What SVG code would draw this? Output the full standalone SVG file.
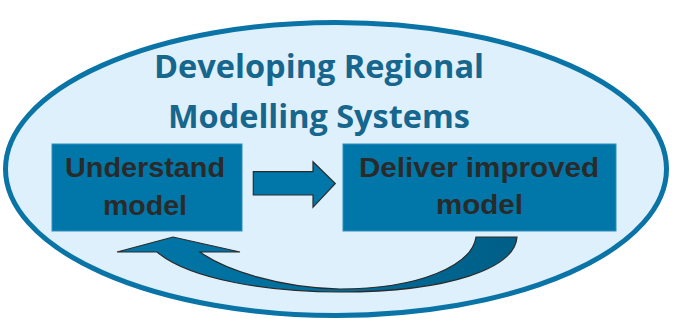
<svg xmlns="http://www.w3.org/2000/svg" width="688" height="329" viewBox="0 0 688 329">
<defs>
<style>
.title{font-family:"Open Sans","Liberation Sans",sans-serif;font-weight:bold;font-size:33px;fill:#17668D;text-anchor:middle}
.lbl{font-family:"Liberation Sans",Arial,sans-serif;font-weight:bold;font-size:27px;fill:#2A2A2A;text-anchor:middle}
.box{fill:#0077A8;stroke:#2F8DBD;stroke-width:1}
.arr{stroke:#2B2B2B;stroke-width:1.2;stroke-linejoin:miter}
</style>
<linearGradient id="cg" x1="117" y1="0" x2="518" y2="0" gradientUnits="userSpaceOnUse">
<stop offset="0" stop-color="#0077A8"/>
<stop offset="0.5" stop-color="#006E9C"/>
<stop offset="1" stop-color="#005E86"/>
</linearGradient>
</defs>
<rect width="688" height="329" fill="#FFFFFF"/>
<g id="frame">
<ellipse cx="336" cy="169" rx="330.5" ry="146.5" fill="#DEF0FC" stroke="#0A74A6" stroke-width="5"/>
<text class="title" x="319" y="78" textLength="330" lengthAdjust="spacingAndGlyphs">Developing Regional</text>
<text class="title" x="319" y="128" textLength="302" lengthAdjust="spacingAndGlyphs">Modelling Systems</text>
</g>
<g id="understand">
<rect class="box" x="52" y="144" width="190" height="87"/>
<text class="lbl" x="145" y="177" textLength="160" lengthAdjust="spacingAndGlyphs">Understand</text>
<text class="lbl" x="145" y="215" textLength="84" lengthAdjust="spacingAndGlyphs">model</text>
</g>
<g id="deliver">
<rect class="box" x="343" y="144" width="273" height="87"/>
<text class="lbl" x="479" y="177" textLength="240" lengthAdjust="spacingAndGlyphs">Deliver improved</text>
<text class="lbl" x="479.5" y="214" textLength="87" lengthAdjust="spacingAndGlyphs">model</text>
</g>
<g id="connectors">
<polygon class="arr" fill="#0077A8" points="253.3,171.7 313,171.7 313,161.7 335.3,183.5 313,207.3 313,195 253.3,195"/>
<path class="arr" fill="url(#cg)" d="M517,237 C515,268 450,292 340,292 C270,292 190,280 157,252 L117,252 L173,237 L240,252 L200,252 C225,270 280,288 340,289 C420,289 472,265 476,237 Z"/>
</g>
</svg>
